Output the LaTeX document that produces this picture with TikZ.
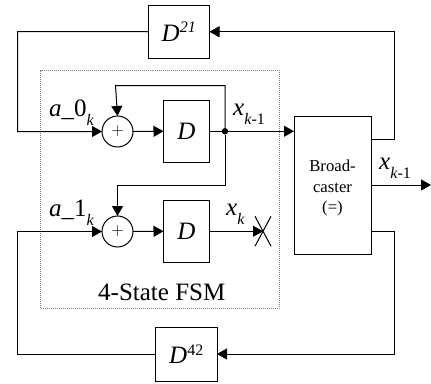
\documentclass[tikz,border=0pt]{standalone}
\usepackage{fontspec}
\setmainfont{Liberation Serif}
\usepackage{tikz}
\usetikzlibrary{arrows.meta,shapes.misc}

\newcommand{\bigfont}{\fontsize{25}{30}\selectfont}
\newcommand{\subfont}{\fontsize{16}{18}\selectfont}
\newcommand{\Sub}[1]{\raisebox{-9pt}{\subfont #1}}
\newcommand{\Sup}[1]{\raisebox{8.5pt}{\subfont #1}}

\tikzset{
    wire/.style={line width=1pt},
    flow/.style={wire,-{Triangle[length=10pt,width=11pt]}},
    block/.style={draw,wire,rectangle,outer sep=0pt,inner sep=0pt,font=\bigfont},
    adder/.style={draw,wire,circle,outer sep=0pt,inner sep=0pt,minimum size=31pt,font=\fontsize{17}{20}\selectfont},
    lbl/.style={anchor=base west,inner sep=0pt,font=\bigfont}
}

\begin{document}
\begin{tikzpicture}[x=1pt,y=-1pt]
    \useasboundingbox (0,0) rectangle (431,383);
    % FSM frame
    \node[draw=gray,dash pattern=on 1pt off 1pt,line width=0.8pt,rectangle,inner sep=0pt,outer sep=0pt,minimum width=238.5pt,minimum height=238pt] (fsm) at (159.75,189) {};
    \node[lbl] (fsmlabel) at (98,300) {4-State FSM};

    \node[block,minimum width=61.5pt,minimum height=53.5pt] (d21) at (178.75,31.75) {\textit{D}\Sup{\textit{21}}};
    \node[block,minimum width=46pt,minimum height=61.5pt] (d0) at (186.5,131.25) {\textit{D}};
    \node[block,minimum width=46pt,minimum height=61.5pt] (d1) at (186.5,231.25) {\textit{D}};
    \node[block,minimum width=61.5pt,minimum height=54pt] (d42) at (186.25,354) {\textit{D}\Sup{42}};
    \node[adder] (sum0) at (117.5,131.5) {$+$};
    \node[adder] (sum1) at (117.5,231.5) {$+$};
    \node[block,minimum width=77pt,minimum height=138pt,font=\fontsize{16.7}{20.5}\selectfont,align=center] (bc) at (332.5,185) {\rule{0pt}{18pt}Broad-\\caster\\(=)};
    \node[circle,fill=black,inner sep=0pt,outer sep=0pt,minimum size=6.5pt] (dot) at (225,131.25) {};
    \node[draw,wire,cross out,inner sep=0pt,outer sep=0pt,minimum width=16pt,minimum height=30pt] (stop) at (263,231.25) {};

    \coordinate (ctl) at (17.5,31.5);
    \coordinate (cml) at (17.5,131.5);
    \coordinate (cbl) at (17.5,231.5);
    \coordinate (cdl) at (17.5,354);
    \coordinate (cfa) at (225,85.5);
    \coordinate (cfb) at (115.5,85.5);
    \coordinate (cga) at (225,185);
    \coordinate (cgb) at (117.5,185);
    \coordinate (cin) at (294,131.25);
    \coordinate (cta) at (371,139);
    \coordinate (ctb) at (394,139);
    \coordinate (ctc) at (394,31.75);
    \coordinate (cma) at (371,185);
    \coordinate (cmb) at (431,185);
    \coordinate (cba) at (371,231);
    \coordinate (cbb) at (394,231);
    \coordinate (cbc) at (394,354);

    \draw[flow] (d21.west) -- (ctl) -- (cml) -- (sum0.west);
    \draw[flow] (sum0.east) -- (d0.west);
    \draw[wire] (d0.east) -- (dot);
    \draw[flow] (dot) -- (cin);
    \draw[flow] (dot) -- (cfa) -- (cfb) -- (sum0.north);
    \draw[flow] (dot) -- (cga) -- (cgb) -- (sum1.north);
    \draw[flow] (d42.west) -- (cdl) -- (cbl) -- (sum1.west);
    \draw[flow] (sum1.east) -- (d1.west);
    \draw[flow] (d1.east) -- (stop.center);
    \draw[flow] (cta) -- (ctb) -- (ctc) -- (d21.east);
    \draw[flow] (cma) -- (cmb);
    \draw[flow] (cba) -- (cbb) -- (cbc) -- (d42.east);

    \node[lbl] (a0label) at (49,116.5) {\textit{a}\_0\Sub{\textit{k}}};
    \node[lbl] (a1label) at (49,216.5) {\textit{a}\_1\Sub{\textit{k}}};
    \node[lbl] (x0label) at (233,115) {\textit{x}\Sub{\textit{k}-1}};
    \node[lbl] (x1label) at (379,169.5) {\textit{x}\Sub{\textit{k}-1}};
    \node[lbl] (x2label) at (226,215.5) {\textit{x}\Sub{\textit{k}}};
\end{tikzpicture}
\end{document}
